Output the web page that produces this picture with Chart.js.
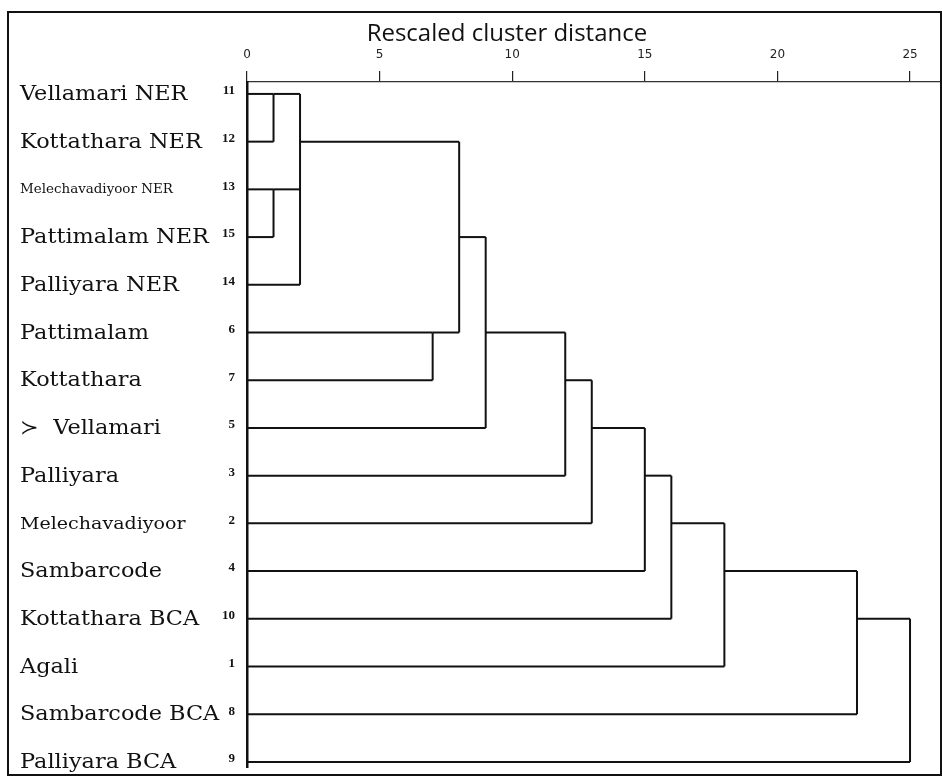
<!DOCTYPE html>
<html>
<head>
<meta charset="utf-8">
<script src="https://cdn.jsdelivr.net/npm/chart.js@4"></script>
<style>
  html, body { margin: 0; padding: 0; background: #fff; }
  #wrap { position: relative; width: 942px; height: 779px; }
  #frame { position: absolute; left: 7px; top: 11px; width: 931px; height: 761px; border: 2px solid #111; }
  canvas { position: absolute; left: 0; top: 0; }
</style>
</head>
<body>
<div id="wrap">
  <div id="frame"></div>
  <canvas id="dendro" width="942" height="779"></canvas>
</div>
<script>
// Sites in dendrogram order, top to bottom, and their case numbers
const sites = ['Vellamari NER', 'Kottathara NER', 'Melechavadiyoor NER', 'Pattimalam NER', 'Palliyara NER',
  'Pattimalam', 'Kottathara', '\u227B  Vellamari', 'Palliyara', 'Melechavadiyoor', 'Sambarcode',
  'Kottathara BCA', 'Agali', 'Sambarcode BCA', 'Palliyara BCA'];
const caseNo = ['11', '12', '13', '15', '14', '6', '7', '5', '3', '2', '4', '10', '1', '8', '9'];

// Agglomeration steps: members (0-14 = sites, 15+ = earlier steps), rescaled distance,
// and the row the joined cluster's line continues on
const mergeMembers = [[0, 1], [2, 3], [15, 16, 4], [5, 6], [17, 18], [19, 7], [20, 8],
  [21, 9], [22, 10], [23, 11], [24, 12], [25, 13], [26, 14]];
const mergeDistance = [1, 1, 2, 7, 8, 9, 12, 13, 15, 16, 18, 23, 25];
const mergeRow = [0, 2, 1, 5, 3, 5, 6, 7, 8, 9, 10, 11, 11];
const distanceTicks = [0, 5, 10, 15, 20, 25];

// label sizes for the two long names
const nameSize = { 'Melechavadiyoor NER': 12, 'Melechavadiyoor': 17 };

// build the elbow segments of the tree
const nodeRow = sites.map((s, i) => i).concat(mergeRow);
const nodeDist = sites.map(() => 0).concat(mergeDistance);
const segments = [];
mergeMembers.forEach((members, m) => {
  const d = mergeDistance[m];
  const rows = members.map(n => nodeRow[n]);
  members.forEach(n => segments.push([{ x: nodeDist[n], y: nodeRow[n] }, { x: d, y: nodeRow[n] }]));
  segments.push([{ x: d, y: Math.min(...rows) }, { x: d, y: Math.max(...rows) }]);
});

// site names and the axis heading
const siteLabels = {
  id: 'siteLabels',
  afterDraw(chart) {
    const { ctx, scales: { x, y } } = chart;
    ctx.save();
    ctx.fillStyle = '#111';
    ctx.textBaseline = 'middle';
    ctx.textAlign = 'center';
    ctx.font = '24px "Open Sans"';
    ctx.fillText('Rescaled cluster distance', x.getPixelForValue(9.8), 34);
    ctx.textAlign = 'left';
    sites.forEach((name, i) => {
      ctx.save();
      ctx.translate(20, y.getPixelForValue(i) + 1);
      ctx.scale(1.12, 1);
      ctx.font = (nameSize[name] || 20) + 'px "DejaVu Serif"';
      ctx.fillText(name, 0, 0);
      ctx.restore();
    });
    ctx.restore();
  }
};

const ctx = document.getElementById('dendro').getContext('2d');
new Chart(ctx, {
  type: 'scatter',
  data: {
    datasets: segments.map(pts => ({
      data: pts,
      showLine: true,
      borderColor: '#111',
      borderWidth: 2,
      pointRadius: 0,
      clip: false
    }))
  },
  options: {
    animation: false,
    responsive: false,
    layout: { padding: { left: 10, top: 12, right: 2, bottom: 7 } },
    plugins: { legend: { display: false }, tooltip: { enabled: false } },
    scales: {
      x: {
        type: 'linear',
        position: 'top',
        min: 0,
        max: 26.13,
        afterBuildTicks: s => { s.ticks = distanceTicks.map(v => ({ value: v })); },
        afterFit: s => { s.height = 70; },
        ticks: { color: '#222', font: { family: 'DejaVu Sans', size: 12 }, padding: 9, maxRotation: 0 },
        grid: { drawOnChartArea: false, tickLength: 11, color: '#222', lineWidth: 1.2 },
        border: { color: '#333', width: 1.2 }
      },
      y: {
        type: 'linear',
        reverse: true,
        min: -0.25,
        max: 14.11,
        afterBuildTicks: s => { s.ticks = caseNo.map((c, i) => ({ value: i })); },
        afterFit: s => { s.width = 237; },
        ticks: {
          callback: v => caseNo[v],
          autoSkip: false,
          color: '#111',
          font: { family: 'Liberation Serif', size: 13, weight: 'bold' },
          padding: 4,
          labelOffset: -3
        },
        grid: { display: false },
        border: { color: '#111', width: 2.5 }
      }
    }
  },
  plugins: [siteLabels]
});
</script>
</body>
</html>
